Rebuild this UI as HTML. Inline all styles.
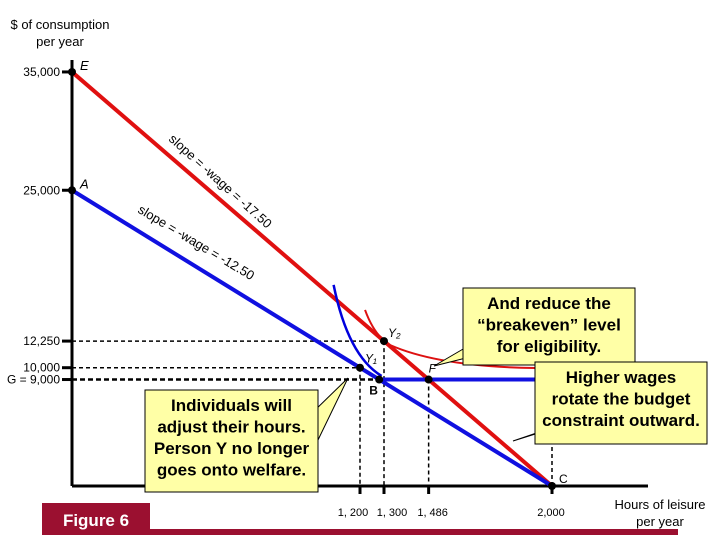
<!DOCTYPE html>
<html><head><meta charset="utf-8"><style>
body{margin:0;background:#fff;width:720px;height:540px;overflow:hidden;font-family:"Liberation Sans",sans-serif}
svg text{font-family:"Liberation Sans",sans-serif}
</style></head><body>
<svg id="c" width="720" height="540">
<g id="g"></g>
</svg>
<script>
const hoursTicks=[1200,1300,1486,2000];
const hoursLabels=["1, 200","1, 300","1, 486","2,000"];
const consTicks=[35000,25000,12250,10000,9000];
const consLabels=["35,000","25,000","12,250","10,000","G = 9,000"];
const redLine=[[0,35000],[2000,0]];
const blueLine=[[0,25000],[2000,0]];
const welfareFloor=[[1280,9000],[1950,9000]];
const pointY1=[1200,10000];
const pointY2=[1300,12250];
const pointB=[1280,9000];
const pointF=[1486,9000];
const X=h=>72+h*0.24;
const Y=v=>486-v*0.01183;
const ns="http://www.w3.org/2000/svg";
const g=document.getElementById('g');
function mk(tag,attrs,name,parent){const e=document.createElementNS(ns,tag);for(const k in attrs)e.setAttribute(k,attrs[k]);


(parent||g).appendChild(e);return e;}
function txt(x,y,s,name,extra){const t=mk('text',Object.assign({x:x,y:y,'font-size':12,fill:'#000'},extra||{}),name);t.textContent=s;return t;}
// axes
mk('line',{x1:72,y1:60,x2:72,y2:486,stroke:'#000','stroke-width':3},'y-axis');
mk('line',{x1:72,y1:486,x2:648,y2:486,stroke:'#000','stroke-width':3},'x-axis');
txt(60,29,"$ of consumption",'y-axis-title',{'text-anchor':'middle','font-size':13});
txt(60,46,"per year",'y-axis-title-2',{'text-anchor':'middle','font-size':13});
txt(660,509,"Hours of leisure",'x-axis-title',{'text-anchor':'middle','font-size':13});
txt(660,526,"per year",'x-axis-title-2',{'text-anchor':'middle','font-size':13});
// dashed guides
mk('line',{x1:72,y1:Y(12250),x2:X(pointY2[0]),y2:Y(12250),stroke:'#000','stroke-dasharray':'4,3','stroke-width':1.5},'guide-12250');
mk('line',{x1:72,y1:Y(10000),x2:X(pointY1[0]),y2:Y(10000),stroke:'#000','stroke-dasharray':'4,3','stroke-width':1.5},'guide-10000');
mk('line',{x1:72,y1:Y(9000),x2:X(pointB[0]),y2:Y(9000),stroke:'#000','stroke-dasharray':'5,3','stroke-width':2.5},'guide-9000');
mk('line',{x1:X(pointY1[0]),y1:Y(pointY1[1]),x2:X(pointY1[0]),y2:486,stroke:'#000','stroke-dasharray':'4,3','stroke-width':1.5},'guide-1200');
mk('line',{x1:X(pointY2[0]),y1:Y(pointY2[1]),x2:X(pointY2[0]),y2:486,stroke:'#000','stroke-dasharray':'4,3','stroke-width':1.5},'guide-1300');
mk('line',{x1:X(pointF[0]),y1:Y(pointF[1]),x2:X(pointF[0]),y2:486,stroke:'#000','stroke-dasharray':'4,3','stroke-width':1.5},'guide-1486');
mk('line',{x1:X(2000),y1:440,x2:X(2000),y2:486,stroke:'#000','stroke-dasharray':'4,3','stroke-width':1.5},'guide-2000');
// ticks
const labOff=[-7,8,4,-1];
consTicks.forEach((v,i)=>{mk('line',{x1:62,y1:Y(v),x2:72,y2:Y(v),stroke:'#000','stroke-width':3},'y-tick');
txt(60,Y(v)+4,consLabels[i],'y-tick-label',{'text-anchor':'end'});});
hoursTicks.forEach((h,i)=>{mk('line',{x1:X(h),y1:486,x2:X(h),y2:494,stroke:'#000','stroke-width':3},'x-tick');
txt(X(h)+labOff[i],516,hoursLabels[i],'x-tick-label',{'text-anchor':'middle','font-size':11});});
// budget lines
mk('line',{x1:X(redLine[0][0]),y1:Y(redLine[0][1]),x2:X(redLine[1][0]),y2:Y(redLine[1][1]),stroke:'#e01010','stroke-width':4},'budget-line-high-wage');
mk('line',{x1:X(blueLine[0][0]),y1:Y(blueLine[0][1]),x2:X(blueLine[1][0]),y2:Y(blueLine[1][1]),stroke:'#1010e0','stroke-width':4},'budget-line-low-wage');
mk('line',{x1:X(welfareFloor[0][0]),y1:Y(welfareFloor[0][1]),x2:X(welfareFloor[1][0]),y2:Y(welfareFloor[1][1]),stroke:'#1010e0','stroke-width':4},'welfare-floor');
// indifference curves
mk('path',{d:`M${X(1090)} ${Y(17000)} Q${X(1150)} ${Y(11000)} ${X(1290)} ${Y(9300)}`,stroke:'#0000dd','stroke-width':2.5,fill:'none'},'indifference-curve-1');
mk('path',{d:`M${X(1221)} ${Y(14880)} Q${X(1260)} ${Y(12700)} ${X(1325)} ${Y(11920)} C${X(1450)} ${Y(10800)} ${X(1650)} ${Y(10050)} ${X(1929)} ${Y(9975)}`,stroke:'#dd1111','stroke-width':2,fill:'none'},'indifference-curve-2');
// slope labels
txt(168,140,"slope = -wage = -17.50",'slope-label-red',{transform:'rotate(42 168 140)','font-size':13});
txt(137,212,"slope = -wage = -12.50",'slope-label-blue',{transform:'rotate(31 137 212)','font-size':13});
// points
[[0,35000,'E'],[0,25000,'A']].forEach(p=>{mk('circle',{cx:X(p[0]),cy:Y(p[1]),r:4,fill:'#000'},'point-'+p[2]);
txt(X(p[0])+8,Y(p[1])-2,p[2],'label-'+p[2],{'font-style':'italic','font-size':13});});
mk('circle',{cx:X(pointY1[0]),cy:Y(pointY1[1]),r:4,fill:'#000'},'point-Y1');
txt(X(pointY1[0])+5,Y(pointY1[1])-5,"Y₁",'label-Y1',{'font-style':'italic'});
mk('circle',{cx:X(pointY2[0]),cy:Y(pointY2[1]),r:4,fill:'#000'},'point-Y2');
txt(X(pointY2[0])+4,Y(pointY2[1])-4,"Y₂",'label-Y2',{'font-style':'italic'});
mk('circle',{cx:X(pointB[0]),cy:Y(pointB[1]),r:4,fill:'#000'},'point-B');
txt(X(pointB[0])-10,Y(pointB[1])+15,"B",'label-B',{'font-weight':'bold'});
mk('circle',{cx:X(pointF[0]),cy:Y(pointF[1]),r:4,fill:'#000'},'point-F');
txt(X(pointF[0]),Y(pointF[1])-7,"F",'label-F',{'font-style':'italic'});
mk('circle',{cx:X(2000),cy:486,r:4,fill:'#000'},'point-C');
txt(X(2000)+7,483,"C",'label-C',{});
// callouts
function callout(x,y,w,h,pts,lines,name){
mk('path',{d:pts,fill:'#ffffa6',stroke:'#000','stroke-width':1},name+'-pointer');
mk('rect',{x:x,y:y,width:w,height:h,fill:'#ffffa6',stroke:'#000','stroke-width':1},name+'-box');
mk('rect',{x:x+1,y:y+1,width:w-2,height:h-2,fill:'#ffffa6'},name+'-fill');
lines.forEach((l,i)=>txt(x+w/2,y+21+i*21.5,l,name+'-text',{'text-anchor':'middle','font-size':17,'font-weight':'bold'}));}
callout(463,288,172,77,"M470 345 L434 366 L478 355 Z",["And reduce the","“breakeven” level","for eligibility."],'callout-breakeven');
callout(535,362,172,82,"M560 425 L513 441 L548 430 Z",["Higher wages","rotate the budget","constraint outward."],'callout-wages');
callout(145,390,173,102,"M310 415 L348 378 L318 440 Z",["Individuals will","adjust their hours.","Person Y no longer","goes onto welfare."],'callout-hours');
// figure label
mk('rect',{x:42,y:529,width:636,height:6,fill:'#9b1030'},'figure-bar');
mk('rect',{x:42,y:503,width:108,height:32,fill:'#9b1030'},'figure-box');
txt(96,526,"Figure 6",'figure-label',{'text-anchor':'middle','font-size':17,'font-weight':'bold',fill:'#fff'});
</script>
</body></html>
